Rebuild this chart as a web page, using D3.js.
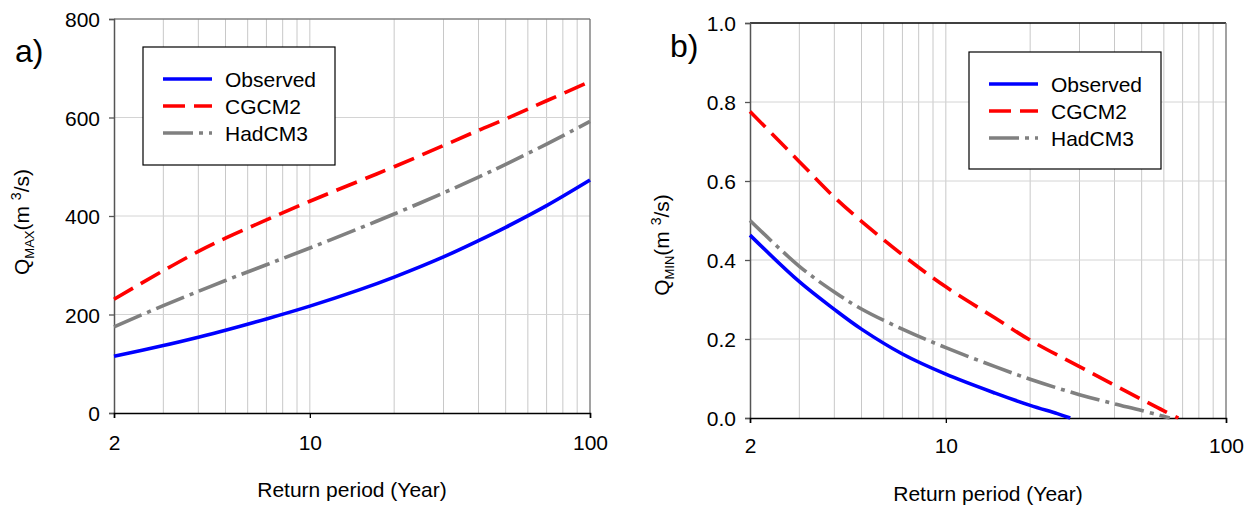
<!doctype html>
<html lang="en">
<head>
    <meta charset="UTF-8">
    <title>Return period curves</title>
    <script src="https://d3js.org/d3.v7.min.js"></script>
    <style>
        body { margin: 0; background: #fff; }
        svg text { font-family: "Liberation Sans", Arial, sans-serif; fill: #000; }
    </style>
</head>
<body>
<svg id="chart" width="1252" height="506"></svg>
<script>
    // series names
    var seriesNames = ["Observed", "CGCM2", "HadCM3"];

    // panel a) Q max
    var qmaxPeriods = [2, 3, 4, 5, 7, 10, 15, 20, 30, 40, 50, 70, 100];
    var qmaxObserved = [115, 137, 154, 168, 191, 217, 250, 276, 317, 350, 377, 421, 473];
    var qmaxCGCM2 = [231, 289, 328, 355, 392, 430, 471, 500, 543, 574, 597, 634, 673];
    var qmaxHadCM3 = [175, 218, 247, 269, 301, 335, 375, 404, 447, 479, 505, 546, 592];

    // panel b) Q min
    var qminObsPeriods = [2, 3, 4, 5, 7, 10, 15, 20, 25, 27.8];
    var qminObserved = [0.463, 0.345, 0.275, 0.225, 0.162, 0.111, 0.063, 0.032, 0.011, 0];
    var qminCgcmPeriods = [2, 3, 4, 5, 7, 10, 15, 20, 30, 40, 50, 60, 67.6];
    var qminCGCM2 = [0.776, 0.649, 0.559, 0.498, 0.413, 0.332, 0.253, 0.197, 0.130, 0.083, 0.047, 0.018, 0];
    var qminHadPeriods = [2, 3, 4, 5, 7, 10, 15, 20, 30, 40, 50, 63];
    var qminHadCM3 = [0.500, 0.384, 0.319, 0.276, 0.225, 0.178, 0.130, 0.098, 0.059, 0.036, 0.019, 0];

    var xTickValues = [2, 10, 100];
    var xGridValues = [3, 4, 5, 6, 7, 8, 9, 10, 20, 30, 40, 50, 60, 70, 80, 90];
    var qmaxTicks = [0, 200, 400, 600, 800];
    var qminTicks = [0, 0.2, 0.4, 0.6, 0.8, 1.0];

    var styles = [
        {color: "#0000ff", dash: null},
        {color: "#ff0000", dash: "22,9"},
        {color: "#808080", dash: "30,6,4,6"}
    ];

    var svg = d3.select("#chart");

    function zip(xs, ys) {
        return xs.map(function (d, i) { return {x: d, y: ys[i]}; });
    }

    function drawPanel(p) {
        var x = d3.scaleLog().domain([2, 100]).range([p.left, p.right]);
        var y = d3.scaleLinear().domain(p.yDomain).range([p.bottom, p.top]);
        var g = svg.append("g");

        // grid
        g.selectAll(".vgrid").data(xGridValues).enter().append("line")
            .attr("x1", function (d) { return x(d); })
            .attr("x2", function (d) { return x(d); })
            .attr("y1", p.top).attr("y2", p.bottom)
            .attr("stroke", "#c8c8c8").attr("stroke-width", 1);
        g.selectAll(".hgrid").data(p.yTicks.slice(1, -1)).enter().append("line")
            .attr("x1", p.left).attr("x2", p.right)
            .attr("y1", function (d) { return y(d); })
            .attr("y2", function (d) { return y(d); })
            .attr("stroke", "#d4d4d4").attr("stroke-width", 1);

        // frame
        g.append("line").attr("x1", p.left).attr("x2", p.right)
            .attr("y1", p.top).attr("y2", p.top)
            .attr("stroke", p.topColor).attr("stroke-width", 1.3);
        g.append("line").attr("x1", p.right).attr("x2", p.right)
            .attr("y1", p.top).attr("y2", p.bottom)
            .attr("stroke", "#707070").attr("stroke-width", 1.3);

        // axes
        var yAxis = d3.axisLeft(y).tickValues(p.yTicks).tickSize(5).tickPadding(9)
            .tickFormat(p.yFormat);
        var ya = g.append("g").attr("transform", "translate(" + p.left + ",0)").call(yAxis);
        ya.select(".domain").attr("stroke", "#555").attr("stroke-width", 1.5);
        ya.selectAll(".tick line").attr("stroke", "#555").attr("stroke-width", 1.3);
        ya.selectAll("text").attr("font-size", 21).attr("dy", "0.36em")
            .attr("font-family", "Liberation Sans, Arial, sans-serif");

        var xAxis = d3.axisBottom(x).tickValues(xTickValues).tickSize(5).tickPadding(0)
            .tickFormat(d3.format("d"));
        var xa = g.append("g").attr("transform", "translate(0," + p.bottom + ")").call(xAxis);
        xa.select(".domain").attr("stroke", "#000").attr("stroke-width", 1.5);
        xa.selectAll(".tick line").attr("stroke", "#000").attr("stroke-width", 1.3);
        xa.selectAll("text").attr("font-size", 21).attr("y", p.xLabelY - p.bottom).attr("dy", 0)
            .attr("font-family", "Liberation Sans, Arial, sans-serif");

        // curves
        var line = d3.line()
            .x(function (d) { return x(d.x); })
            .y(function (d) { return y(d.y); })
            .curve(d3.curveCatmullRom.alpha(0.5));
        p.series.forEach(function (s, i) {
            g.append("path").datum(s)
                .attr("d", line)
                .attr("fill", "none")
                .attr("stroke", styles[i].color)
                .attr("stroke-width", 3.6)
                .attr("stroke-dasharray", styles[i].dash);
        });

        // legend
        var lg = g.append("g");
        lg.append("rect")
            .attr("x", p.legend.x).attr("y", p.legend.y)
            .attr("width", p.legend.w).attr("height", p.legend.h)
            .attr("fill", "#fff").attr("stroke", "#000").attr("stroke-width", 1.2);
        seriesNames.forEach(function (name, i) {
            var ry = p.legend.y + 32 + i * 27;
            lg.append("line")
                .attr("x1", p.legend.x + 20).attr("x2", p.legend.x + 69)
                .attr("y1", ry).attr("y2", ry)
                .attr("stroke", styles[i].color)
                .attr("stroke-width", 3.6)
                .attr("stroke-dasharray", styles[i].dash);
            lg.append("text")
                .attr("x", p.legend.x + 82).attr("y", ry).attr("dy", "0.36em")
                .attr("font-size", 21).text(name);
        });

        // axis titles
        g.append("text")
            .attr("x", (p.left + p.right) / 2).attr("y", p.xTitleY)
            .attr("text-anchor", "middle").attr("font-size", 21)
            .text("Return period (Year)");

        var yt = g.append("text")
            .attr("transform", "translate(" + p.yTitleX + "," + p.yTitleY + ") rotate(-90)")
            .attr("text-anchor", "middle").attr("font-size", 21);
        yt.append("tspan").text("Q");
        yt.append("tspan").attr("font-size", 13).attr("dy", 5).text(p.sub);
        yt.append("tspan").attr("dy", -5).text("(m ");
        yt.append("tspan").attr("font-size", 14).attr("dy", -8).text("3");
        yt.append("tspan").attr("dy", 8).text("/s)");

        // panel letter
        g.append("text").attr("x", p.letterX).attr("y", p.letterY)
            .attr("font-size", 32).text(p.letter);
    }

    drawPanel({
        left: 114, right: 590, top: 19, bottom: 413,
        yDomain: [0, 800], yTicks: qmaxTicks, yFormat: d3.format("d"),
        topColor: "#808080",
        xLabelY: 450, xTitleY: 497,
        yTitleX: 29, yTitleY: 222, sub: "MAX",
        letter: "a)", letterX: 15, letterY: 62,
        legend: {x: 143, y: 47, w: 192, h: 118},
        series: [zip(qmaxPeriods, qmaxObserved), zip(qmaxPeriods, qmaxCGCM2), zip(qmaxPeriods, qmaxHadCM3)]
    });

    drawPanel({
        left: 750, right: 1226, top: 23, bottom: 418,
        yDomain: [0, 1], yTicks: qminTicks, yFormat: d3.format(".1f"),
        topColor: "#000",
        xLabelY: 453, xTitleY: 501,
        yTitleX: 669, yTitleY: 245, sub: "MIN",
        letter: "b)", letterX: 670, letterY: 57,
        legend: {x: 969, y: 52, w: 192, h: 117},
        series: [zip(qminObsPeriods, qminObserved), zip(qminCgcmPeriods, qminCGCM2), zip(qminHadPeriods, qminHadCM3)]
    });
</script>
</body>
</html>
